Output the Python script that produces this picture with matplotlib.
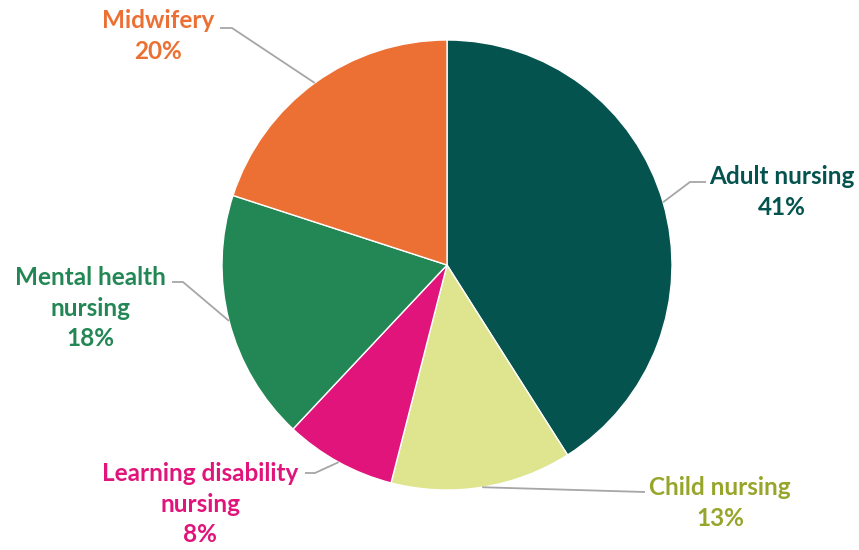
import matplotlib.pyplot as plt
import numpy as np

# share of students by field
fields = ["Adult nursing", "Child nursing", "Learning disability\nnursing",
          "Mental health\nnursing", "Midwifery"]
shares = [41, 13, 8, 18, 20]

wedge_colors = ["#04534E", "#DEE58E", "#E0147A", "#238755", "#EC7033"]
text_colors = ["#04534E", "#97A62A", "#E0147A", "#238755", "#EC7033"]

# label placement (centre of text block) and leader line bends, in pixels
label_xy = [(782, 192), (720, 503), (200, 504), (90, 308), (158, 36)]
elbows = [[(690, 182), (706, 182)],
          [(645, 492)],
          [(315, 473), (305, 473)],
          [(183, 282), (172, 282)],
          [(232, 28), (220, 28)]]

W, H = 859, 550
cx, cy, r = 447, H - 265, 225

fig = plt.figure(figsize=(W / 100, H / 100), dpi=100)
ax = fig.add_axes([0, 0, 1, 1])

wedges, _ = ax.pie(shares, colors=wedge_colors, startangle=90, counterclock=False,
                   center=(cx, cy), radius=r, frame=True,
                   wedgeprops=dict(edgecolor="white", linewidth=1))
ax.set_xlim(0, W)
ax.set_ylim(0, H)
ax.set_aspect("equal")
ax.axis("off")

for w, name, pct, col, (tx, ty), bends in zip(wedges, fields, shares, text_colors,
                                              label_xy, elbows):
    mid = np.deg2rad((w.theta1 + w.theta2) / 2)
    px = [cx + r * np.cos(mid)] + [b[0] for b in bends]
    py = [cy + r * np.sin(mid)] + [H - b[1] for b in bends]
    ax.plot(px, py, color="#A6A6A6", linewidth=1.3, solid_capstyle="butt", zorder=3)
    ax.text(tx, H - ty, f"{name}\n{pct}%", color=col, ha="center", va="center",
            fontsize=17.5, fontweight="bold", family="Lato", linespacing=1.42)

fig.savefig("out.png", dpi=100)
